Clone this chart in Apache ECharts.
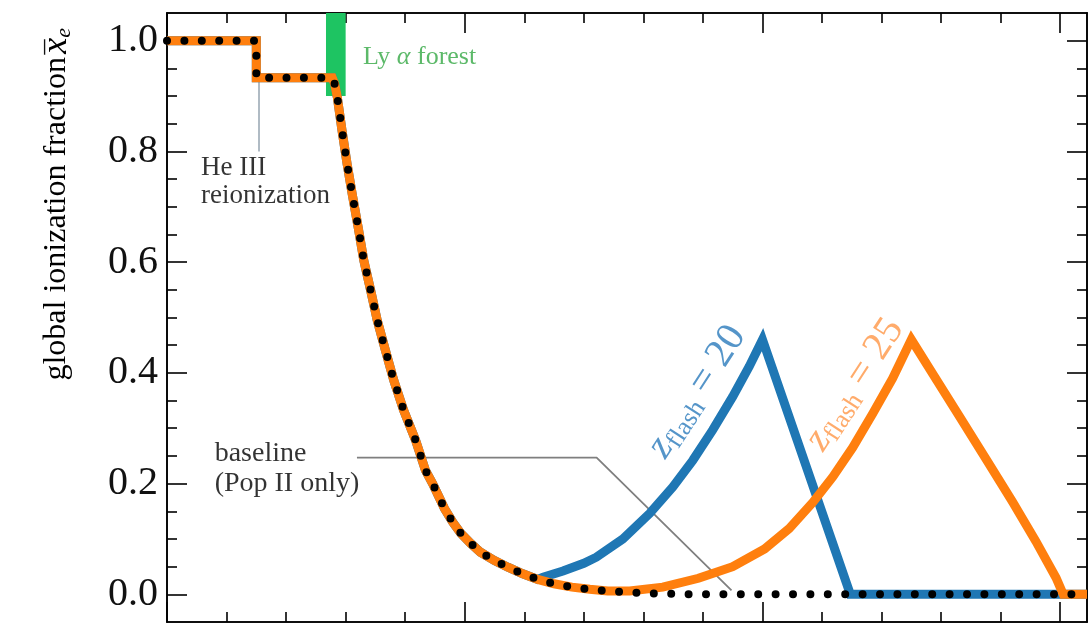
<!DOCTYPE html>
<html>
<head>
<meta charset="utf-8">
<script src="https://cdn.jsdelivr.net/npm/echarts@6/dist/echarts.min.js"></script>
<style>html,body{margin:0;padding:0;background:#fff;}#c{width:1091px;height:623px;}</style>
</head>
<body>
<div id="c"></div>
<script>
// ---- data (z = redshift, x_e = global ionization fraction) ----
const baseline = [
  [0,1.0],[3.0,1.0],[3.0,0.933],[5.55,0.933],[5.63,0.922],[5.72,0.898],[5.88,0.837],[6.05,0.777],
  [6.22,0.723],[6.42,0.663],[6.61,0.603],[6.84,0.549],[7.06,0.495],[7.34,0.44],[7.62,0.386],
  [7.95,0.332],[8.35,0.278],[8.68,0.224],[8.92,0.20],[9.32,0.155],[9.6,0.13],[9.87,0.11],[10.2,0.092],
  [10.53,0.076],[11.0,0.061],[11.45,0.049],[11.95,0.037],[12.45,0.027],[13.0,0.019],[13.6,0.013],
  [14.2,0.009],[14.8,0.006],[15.4,0.004],[16.0,0.002],[16.8,0.001],[17.5,0.0],[30.9,0.0]
];
const flash20 = [
  [12.45,0.027],[12.63,0.031],[13.3,0.042],[14.0,0.056],[14.42,0.067],[15.31,0.100],[16.21,0.146],
  [16.99,0.194],[17.66,0.242],[18.33,0.297],[19.0,0.357],[19.56,0.412],[20.0,0.46],[22.95,0.0],[30.9,0.0]
];
const flash25 = [
  [14.8,0.006],[15.54,0.006],[16.65,0.013],[17.85,0.029],[19.0,0.050],[20.07,0.082],[20.9,0.119],
  [21.69,0.166],[22.36,0.212],[23.03,0.265],[23.7,0.326],[24.37,0.39],[25.0,0.46],[25.72,0.398],
  [26.61,0.322],[27.5,0.245],[28.4,0.167],[29.18,0.096],[29.86,0.03],[30.1,0.0],[30.9,0.0]
];
const lyaBand = [[5.34,0.90],[6.0,1.05]];
const heLeader = [[3.09,0.928],[3.09,0.80]];
const baseLeader = [[6.38,0.247],[14.43,0.247],[18.96,0.007]];
const xMajor = [0,10,20,30];
const xMinor = [2,4,6,8,12,14,16,18,22,24,26,28];
const yMajor = [0,0.2,0.4,0.6,0.8,1.0];
const yMinor = [0.05,0.1,0.15,0.25,0.3,0.35,0.45,0.5,0.55,0.65,0.7,0.75,0.85,0.9,0.95];
const notes = {
  he: [1.14,0.745], base: [1.6,0.227], lya: [6.58,0.971], z20: [17.8,0.366], z25: [23.1,0.379]
};

// ---- chart ----
const FONT = '"Liberation Serif","DejaVu Serif",serif';
const lowPart = (lim) => baseline.filter(p => p[0] < lim);
const blueData = lowPart(12.45).concat(flash20);
const orangeData = lowPart(14.8).concat(flash25);

function xAx(pos, ticks, len) {
  return { type:'value', min:0, max:30.9, position:pos,
    axisLine:{show:true, onZero:false, lineStyle:{color:'#000', width:1.6}},
    axisTick:{show:true, inside:true, length:len, customValues:ticks, lineStyle:{color:'#000', width:1.6}},
    axisLabel:{show:false}, splitLine:{show:false} };
}
function yAx(pos, ticks, len, lab) {
  return { type:'value', min:-0.05, max:1.05, position:pos,
    axisLine:{show:true, onZero:false, lineStyle:{color:'#000', width:1.6}},
    axisTick:{show:true, inside:true, length:len, customValues:ticks, lineStyle:{color:'#000', width:1.6}},
    axisLabel:{show:lab, customValues:yMajor, formatter:v=>v.toFixed(1), fontSize:40, fontFamily:FONT, color:'#111', margin:9},
    splitLine:{show:false} };
}

const subRich = {
  z:{fontFamily:FONT, fontStyle:'italic', fontSize:40},
  s:{fontFamily:FONT, fontSize:26, padding:[18,0,0,0]},
  n:{fontFamily:FONT, fontSize:40}
};
function rich(color){
  const r = {};
  for (const k in subRich) r[k] = Object.assign({color}, subRich[k]);
  return r;
}

const chart = echarts.init(document.getElementById('c'), null, {renderer:'canvas'});
chart.setOption({
  animation:false,
  backgroundColor:'#fff',
  grid:{left:167, right:4, top:13, bottom:1, containLabel:false},
  xAxis:[xAx('bottom', xMajor, 20), xAx('bottom', xMinor, 10), xAx('top', xMajor, 20), xAx('top', xMinor, 10)],
  yAxis:[yAx('left', yMajor, 20, true), yAx('left', yMinor, 10, false), yAx('right', yMajor, 20, false), yAx('right', yMinor, 10, false)],
  series:[
    { type:'line', data:[], silent:true, z:1,
      markArea:{silent:true, itemStyle:{color:'#1ec462'}, data:[[{coord:lyaBand[0]},{coord:lyaBand[1]}]]} },
    { type:'line', data:heLeader, symbol:'none', silent:true, z:2, lineStyle:{color:'#a8b4be', width:1.8} },
    { type:'line', data:baseLeader, symbol:'none', silent:true, z:2, lineStyle:{color:'#7f7f7f', width:1.8} },
    { type:'line', data:blueData, symbol:'none', z:3, lineStyle:{color:'#1f77b4', width:9, join:'miter'} },
    { type:'line', data:orangeData, symbol:'none', z:4, lineStyle:{color:'#ff7f0e', width:9, join:'miter'} },
    { type:'line', data:baseline, symbol:'none', z:5, lineStyle:{color:'#000', width:8, type:[0,17.4], cap:'round'} },
    { type:'scatter', symbolSize:0, silent:true, z:6,
      data:[
        { value:notes.he, label:{show:true, position:'right', distance:0, formatter:'He III\nreionization', align:'left',
          fontFamily:FONT, fontSize:27, lineHeight:28, color:'#000'} },
        { value:notes.base, label:{show:true, position:'right', distance:0, formatter:'baseline\n(Pop II only)', align:'left',
          fontFamily:FONT, fontSize:28, lineHeight:30, color:'#000'} },
        { value:notes.lya, label:{show:true, position:'right', distance:0, formatter:'Ly {a|α} forest',
          fontFamily:FONT, fontSize:26, color:'#33a744', rich:{a:{fontFamily:FONT, fontStyle:'italic', fontSize:26, color:'#33a744'}}} },
        { value:notes.z20, label:{show:true, position:'inside', rotate:57, formatter:'{z|z}{s|flash}{n| = 20}', rich:rich('#2a7bbb')} },
        { value:notes.z25, label:{show:true, position:'inside', rotate:57, formatter:'{z|z}{s|flash}{n| = 25}', rich:rich('#ff9646')} }
      ] }
  ],
  graphic:[
    { type:'group', x:57, y:28, rotation:Math.PI/2, silent:true, children:[
      { type:'text', x:0, y:0,
        style:{ text:'{t|global ionization fraction} {x|x}{e|e}', align:'right', verticalAlign:'middle',
          rich:{ t:{fontFamily:FONT, fontSize:32, color:'#111'},
                 x:{fontFamily:FONT, fontStyle:'italic', fontSize:36, color:'#111'},
                 e:{fontFamily:FONT, fontStyle:'italic', fontSize:22, color:'#111', padding:[14,0,0,0]} } } },
      { type:'text', x:-19, y:1,
        style:{ text:'\u00AF', align:'center', verticalAlign:'middle', fontFamily:FONT, fontSize:30, fill:'#111' } }
    ]}
  ]
});
</script>
</body>
</html>
